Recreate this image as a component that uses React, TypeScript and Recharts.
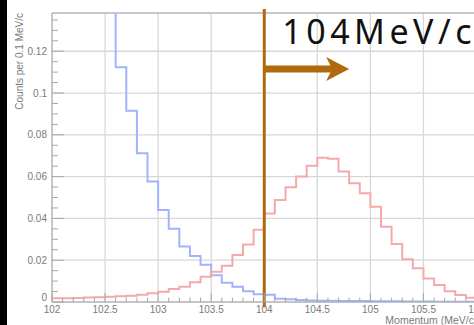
import React from 'react';
import { ComposedChart, Line, XAxis, YAxis, CartesianGrid, ReferenceLine } from 'recharts';

// bin low edges (0.1 MeV/c bins) + the closing edge at 106
const binEdges = [
  102.0, 102.1, 102.2, 102.3, 102.4, 102.5, 102.6, 102.7, 102.8, 102.9,
  103.0, 103.1, 103.2, 103.3, 103.4, 103.5, 103.6, 103.7, 103.8, 103.9,
  104.0, 104.1, 104.2, 104.3, 104.4, 104.5, 104.6, 104.7, 104.8, 104.9,
  105.0, 105.1, 105.2, 105.3, 105.4, 105.5, 105.6, 105.7, 105.8, 105.9,
  106.0,
];

// blue: first bins run off the top of the frame
const blueCounts = [
  0.62, 0.5, 0.4, 0.31, 0.23, 0.165, 0.1123, 0.0915, 0.0712, 0.0577,
  0.044, 0.035, 0.0265, 0.022, 0.0178, 0.0128, 0.0092, 0.0073, 0.0052, 0.0037,
  0.0035, 0.0015, 0.0013, 0.0009, 0.0007, 0.0006, 0.0006, 0.0005, 0.0005, 0.0005,
  0.0004, 0.0003, 0.0003, 0.0002, 0.0002, 0.0002, 0.0001, 0.0001, 0.0001, 0.0001,
];

const redCounts = [
  0.0018, 0.0018, 0.0019, 0.0021, 0.0023, 0.0025, 0.0027, 0.003, 0.0035, 0.0042,
  0.0049, 0.0062, 0.0073, 0.0094, 0.0121, 0.0145, 0.0174, 0.0225, 0.0275, 0.0346,
  0.0424, 0.0488, 0.0549, 0.06, 0.0652, 0.069, 0.0686, 0.0624, 0.0568, 0.052,
  0.0456, 0.036, 0.0278, 0.0204, 0.0162, 0.0112, 0.0081, 0.0052, 0.0033, 0.002,
];

const xMajorTicks = [102, 102.5, 103, 103.5, 104, 104.5, 105, 105.5, 106];
const yMajorTicks = [0, 0.02, 0.04, 0.06, 0.08, 0.1, 0.12];

const cutMomentum = 104;
const cutLabel = '104MeV/c';
const arrowEnd = 104.8;
const arrowLevel = 0.1115;

const X_MIN = 102;
const X_MAX = 106;
const Y_MAX = 0.1383;

const BLUE = '#a0b3fc';
const RED = '#f6a9a9';
const BROWN = '#ae6a0c';
const AXIS_GRAY = '#a8a8a8';
const LABEL_GRAY = '#7a7a7a';
const FONT = '"Liberation Sans", Arial, sans-serif';

const rows = binEdges.map((edge, i) => ({
  p: edge,
  blue: blueCounts[Math.min(i, blueCounts.length - 1)],
  red: redCounts[Math.min(i, redCounts.length - 1)],
}));

const yTicks = yMajorTicks
  .flatMap((v) => [v, v + 0.005, v + 0.01, v + 0.015])
  .map((v) => Number(v.toFixed(3)))
  .filter((v) => v <= Y_MAX);

const isMajor = (v: number, majors: number[]) => majors.some((m) => Math.abs(m - v) < 1e-6);

const XTick = (props: any) => {
  const { x, y, payload } = props;
  const major = isMajor(payload.value, xMajorTicks);
  return (
    <g>
      <line x1={x} y1={y} x2={x} y2={y - (major ? 9 : 4.5)} stroke={AXIS_GRAY} strokeWidth={1} />
      {major && (
        <text x={x} y={y + 10.5} textAnchor="middle" fontSize={10} fontFamily={FONT} fill={LABEL_GRAY}>
          {String(Number(payload.value.toFixed(1)))}
        </text>
      )}
    </g>
  );
};

const YTick = (props: any) => {
  const { x, y, payload } = props;
  const major = isMajor(payload.value, yMajorTicks);
  // ROOT lifts the zero label off the corner
  const dy = payload.value === 0 ? -1.5 : 3.5;
  return (
    <g>
      <line x1={x} y1={y} x2={x + (major ? 12 : 6)} y2={y} stroke={AXIS_GRAY} strokeWidth={1} />
      {major && (
        <text x={x - 5} y={y + dy} textAnchor="end" fontSize={10} fontFamily={FONT} fill={LABEL_GRAY}>
          {String(Number(payload.value.toFixed(3)))}
        </text>
      )}
    </g>
  );
};

const CutArrow = (props: any) => {
  const { x1, y1, x2 } = props;
  return (
    <g>
      <line x1={x1} y1={y1} x2={x2 - 17} y2={y1} stroke={BROWN} strokeWidth={7} />
      <polygon
        points={`${x2 - 23},${y1 - 12} ${x2},${y1} ${x2 - 23},${y1 + 12} ${x2 - 17},${y1}`}
        fill={BROWN}
      />
      <text
        x={x1 + 18}
        y={y1 - 25}
        fontSize={34}
        letterSpacing={4.5}
        fontFamily='"Noto Sans", sans-serif'
        fill="#111"
      >
        {cutLabel}
      </text>
    </g>
  );
};

export default function App() {
  return (
    <div
      style={{
        position: 'fixed',
        left: 0,
        top: 0,
        width: 474,
        height: 325,
        overflow: 'hidden',
        background: '#fff',
      }}
    >
      <ComposedChart
        width={480}
        height={325}
        data={rows}
        margin={{ top: 13, right: 3.5, bottom: 0, left: 0 }}
      >
        <CartesianGrid
          stroke="#d8d8d8"
          strokeWidth={1.3}
          horizontalValues={yMajorTicks}
          verticalValues={xMajorTicks}
        />
        <XAxis
          dataKey="p"
          type="number"
          domain={[X_MIN, X_MAX]}
          allowDataOverflow
          ticks={binEdges}
          interval={0}
          height={23}
          tickSize={0}
          tickMargin={0}
          tickLine={false}
          tick={<XTick />}
          axisLine={{ stroke: AXIS_GRAY }}
          label={{
            content: (p: any) => (
              <text
                x={p.viewBox.x + p.viewBox.width + 1}
                y={324}
                textAnchor="end"
                fontSize={10.5}
                fontFamily={FONT}
                fill={LABEL_GRAY}
              >
                Momentum (MeV/c)
              </text>
            ),
          }}
        />
        <YAxis
          type="number"
          domain={[0, Y_MAX]}
          allowDataOverflow
          ticks={yTicks}
          interval={0}
          width={52}
          tickSize={0}
          tickMargin={0}
          tickLine={false}
          tick={<YTick />}
          axisLine={{ stroke: AXIS_GRAY }}
          label={{
            content: () => (
              <text
                transform="translate(23,13) rotate(-90)"
                textAnchor="end"
                fontSize={10}
                fontFamily={FONT}
                fill={LABEL_GRAY}
              >
                Counts per 0.1 MeV/c
              </text>
            ),
          }}
        />
        <ReferenceLine y={Y_MAX} stroke="#c8c8c8" strokeWidth={2} />
        <Line
          type="stepAfter"
          dataKey="blue"
          stroke={BLUE}
          strokeWidth={2}
          dot={false}
          activeDot={false}
          isAnimationActive={false}
        />
        <Line
          type="stepAfter"
          dataKey="red"
          stroke={RED}
          strokeWidth={2}
          dot={false}
          activeDot={false}
          isAnimationActive={false}
        />
        <ReferenceLine
          segment={[
            { x: cutMomentum, y: -0.0025 },
            { x: cutMomentum, y: 0.1402 },
          ]}
          ifOverflow="visible"
          stroke={BROWN}
          strokeWidth={3}
        />
        <ReferenceLine
          segment={[
            { x: cutMomentum, y: arrowLevel },
            { x: arrowEnd, y: arrowLevel },
          ]}
          ifOverflow="visible"
          shape={<CutArrow />}
        />
      </ComposedChart>
      <div style={{ position: 'absolute', left: 0, top: 0, width: 7, height: 325, background: '#000' }} />
    </div>
  );
}
